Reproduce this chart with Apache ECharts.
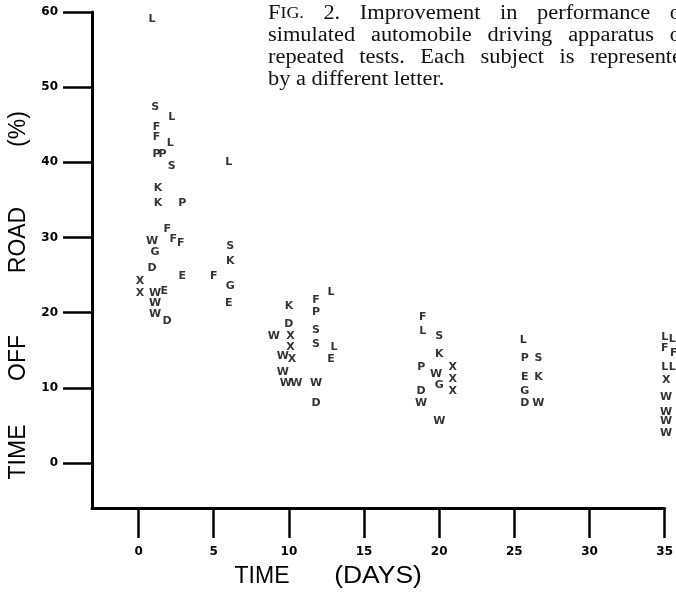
<!DOCTYPE html>
<html><head><meta charset="utf-8">
<script src="https://cdn.jsdelivr.net/npm/echarts@6/dist/echarts.min.js"></script>
<style>html,body{margin:0;padding:0;background:#fff}#c{width:676px;height:598px}</style>
</head><body><div id="c"></div>
<script>
const xTicks = [0, 5, 10, 15, 20, 25, 30, 35];
const yTicks = [0, 10, 20, 30, 40, 50, 60];
const subjL = [[0.9,59.1],[2.2,46.0],[2.1,42.6],[6.0,40.0],[12.8,22.7],[13.0,15.4],[18.9,17.6],[25.6,16.4],[35.0,16.8],[35.5,16.5],[35.0,12.8],[35.5,12.8]];
const subjS = [[1.1,47.3],[2.2,39.5],[6.1,28.9],[11.8,17.7],[11.8,15.8],[20.0,16.9],[26.6,13.9]];
const subjF = [[1.2,44.7],[1.2,43.4],[1.9,31.1],[2.3,29.8],[2.8,29.3],[5.0,24.9],[11.8,21.7],[18.9,19.4],[35.0,15.3],[35.6,14.6]];
const subjP = [[1.2,41.1],[1.6,41.1],[2.9,34.6],[11.8,20.0],[18.8,12.8],[25.7,13.9]];
const subjK = [[1.3,36.6],[1.3,34.6],[6.1,26.8],[10.0,20.9],[20.0,14.5],[26.6,11.4]];
const subjE = [[2.9,24.9],[1.7,22.9],[6.0,21.3],[12.8,13.8],[25.7,11.4]];
const subjW = [[0.9,29.5],[1.1,22.6],[1.1,21.3],[1.1,19.8],[9.0,16.9],[9.6,14.2],[9.6,12.1],[9.8,10.6],[10.5,10.6],[11.8,10.6],[19.8,11.8],[18.8,8.0],[20.0,5.5],[26.6,8.0],[35.1,8.8],[35.1,6.8],[35.1,5.5],[35.1,4.0]];
const subjG = [[1.1,28.1],[6.1,23.5],[20.0,10.4],[25.7,9.6]];
const subjD = [[0.9,25.9],[1.9,18.9],[10.0,18.5],[11.8,8.0],[18.8,9.6],[25.7,8.0]];
const subjX = [[0.1,24.2],[0.1,22.6],[10.1,16.9],[10.1,15.4],[10.2,13.8],[20.9,12.8],[20.9,11.2],[20.9,9.5],[35.1,11.0]];

const captionLines = [
  ['FIG.', '2.', 'Improvement', 'in', 'performance', 'o'],
  ['simulated', 'automobile', 'driving', 'apparatus', 'o'],
  ['repeated', 'tests.', 'Each', 'subject', 'is', 'represente'],
  ['by', 'a', 'different', 'letter.']
];

const subjects = [['L',subjL],['S',subjS],['F',subjF],['P',subjP],['K',subjK],['E',subjE],['W',subjW],['G',subjG],['D',subjD],['X',subjX]];

const serif = '"Liberation Serif", "DejaVu Serif", serif';
const sans = '"Liberation Sans", Arial, sans-serif';
const capSize = 20, capScale = 1.12, capLeft = 268;
const mctx = document.createElement('canvas').getContext('2d');
function wordWidth(w) {
  if (w === 'FIG.') {
    mctx.font = capSize + 'px ' + serif; const a = mctx.measureText('F').width;
    mctx.font = (capSize - 4) + 'px ' + serif; const b = mctx.measureText('IG.').width;
    return (a + b) * capScale;
  }
  mctx.font = capSize + 'px ' + serif;
  return mctx.measureText(w).width * capScale;
}
mctx.font = capSize + 'px ' + serif;
const spaceW = mctx.measureText(' ').width * capScale;
const lineRight = [681, 681, 682, null];
const lineTop = [4, 26, 48, 70];
const capGraphics = [];
captionLines.forEach((words, li) => {
  const widths = words.map(wordWidth);
  const sum = widths.reduce((a, b) => a + b, 0);
  const gap = lineRight[li] == null ? spaceW : (lineRight[li] - capLeft - sum) / (words.length - 1);
  let x = capLeft;
  words.forEach((w, i) => {
    const style = w === 'FIG.'
      ? {text: '{a|F}{b|IG.}', rich: {a: {fontFamily: serif, fontSize: capSize, fill: '#111'}, b: {fontFamily: serif, fontSize: capSize - 4, fill: '#111'}}}
      : {text: w, fill: '#111', fontFamily: serif, fontSize: capSize};
    capGraphics.push({type: 'text', x: x, y: lineTop[li], scaleX: capScale, style: style});
    x += widths[i] + gap;
  });
});

const chart = echarts.init(document.getElementById('c'), null, {renderer: 'canvas'});
const titleStyle = (t) => ({text: t, fill: '#000', fontFamily: sans, fontSize: 23, align: 'center', verticalAlign: 'middle'});
const tickFont = {color: '#000', fontFamily: '"DejaVu Sans", sans-serif', fontWeight: 'bold', fontSize: 12};
chart.setOption({
  animation: false,
  backgroundColor: '#fff',
  grid: {left: 92, top: 12, right: 11, bottom: 90, containLabel: false},
  xAxis: {
    type: 'value', min: -3.1, max: 35,
    axisLine: {show: true, onZero: false, lineStyle: {color: '#000', width: 3}},
    axisTick: {show: true, length: 30, customValues: xTicks, lineStyle: {color: '#000', width: 2.5}},
    axisLabel: Object.assign({show: true, customValues: xTicks, margin: 38}, tickFont),
    splitLine: {show: false}
  },
  yAxis: {
    type: 'value', min: -6, max: 60,
    axisLine: {show: true, onZero: false, lineStyle: {color: '#000', width: 3}},
    axisTick: {show: true, length: 29, customValues: yTicks, lineStyle: {color: '#000', width: 2.5}},
    axisLabel: Object.assign({show: true, customValues: yTicks, margin: 34}, tickFont),
    splitLine: {show: false}
  },
  series: subjects.map(([name, data]) => ({
    type: 'scatter', name: name, data: data, clip: false,
    symbol: 'circle', symbolSize: 1, itemStyle: {color: 'rgba(0,0,0,0)'},
    label: {show: true, position: 'inside', formatter: name, color: '#000',
      fontFamily: '"DejaVu Sans", sans-serif', fontWeight: 'bold', fontSize: 11}
  })),
  graphic: capGraphics.concat([
    {type: 'text', x: 262, y: 577, style: titleStyle('TIME')},
    {type: 'text', x: 378, y: 577, scaleX: 1.15, style: titleStyle('(DAYS)')},
    {type: 'text', x: 19, y: 452, rotation: Math.PI / 2, style: titleStyle('TIME')},
    {type: 'text', x: 19, y: 358, rotation: Math.PI / 2, style: titleStyle('OFF')},
    {type: 'text', x: 19, y: 240, rotation: Math.PI / 2, style: titleStyle('ROAD')},
    {type: 'text', x: 19, y: 129, rotation: Math.PI / 2, style: titleStyle('(%)')}
  ])
});
</script></body></html>
